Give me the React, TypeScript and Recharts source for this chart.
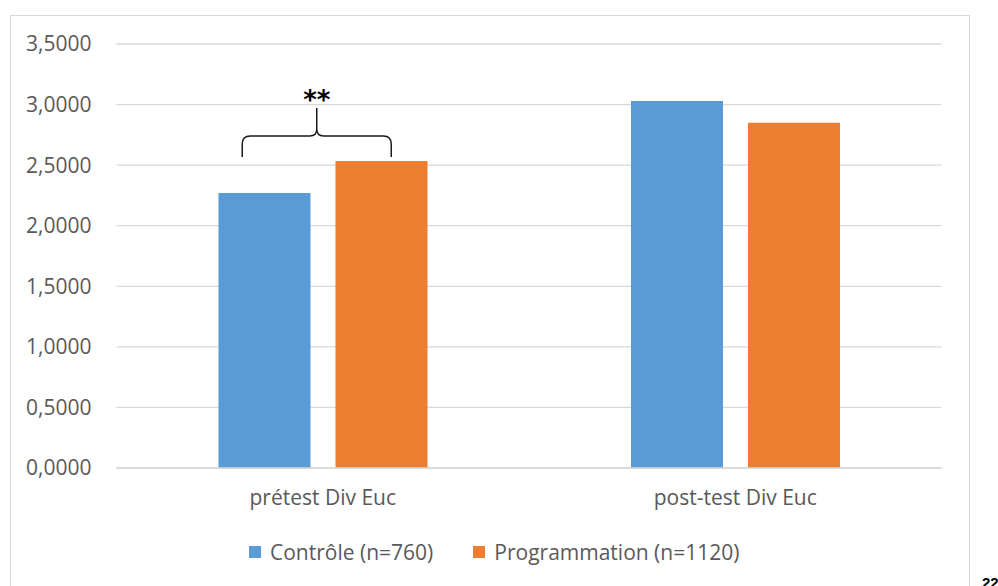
import React from 'react';
import { BarChart, Bar, XAxis, YAxis, CartesianGrid, Legend, ReferenceDot } from 'recharts';

const categories = ['prétest Div Euc', 'post-test Div Euc'];
const controleValues = [2.27, 3.03];
const programmationValues = [2.535, 2.85];
const yTicks = [0, 0.5, 1, 1.5, 2, 2.5, 3, 3.5];
const seriesNames = ['Contrôle (n=760)', 'Programmation (n=1120)'];
const seriesColors = ['#5B9BD5', '#ED7D31'];
const significance = { category: 'prétest Div Euc', y: 2.74, label: '**' };

const data = categories.map((c, i) => ({
  category: c,
  controle: controleValues[i],
  programmation: programmationValues[i],
}));

const FONT = '"Open Sans", sans-serif';

const fmt = (v: number) => v.toFixed(4).replace('.', ',');

const Bracket = (props: any) => {
  const { cx, cy } = props;
  if (cx == null || cy == null) return null;
  const L = cx - 80.5;
  const R = cx + 68.5;
  const M = cx - 6;
  const h = cy;
  const d = `M${L},${h + 21} L${L},${h + 8} Q${L},${h} ${L + 8},${h} L${M - 7},${h} Q${M},${h} ${M},${h - 7} L${M},${h - 28} M${M},${h - 7} Q${M},${h} ${M + 7},${h} L${R - 8},${h} Q${R},${h} ${R},${h + 8} L${R},${h + 21}`;
  return (
    <g>
      <path d={d} fill="none" stroke="#1a1a1a" strokeWidth={1.5} />
      <text
        x={M}
        y={h - 27}
        textAnchor="middle"
        fontFamily='"DejaVu Sans", sans-serif'
        fontWeight="bold"
        fontSize={26}
        fill="#000"
      >
        {significance.label}
      </text>
    </g>
  );
};

const LegendContent = () => (
  <div style={{ display: 'flex', alignItems: 'center', height: 24, paddingLeft: 249, fontFamily: FONT, fontSize: 21, color: '#595959' }}>
    {seriesNames.map((n, i) => (
      <div key={n} style={{ display: 'flex', alignItems: 'center', marginRight: 40 }}>
        <div style={{ width: 12, height: 12, background: seriesColors[i], marginRight: 9 }} />
        <span style={{ lineHeight: '24px' }}>{n}</span>
      </div>
    ))}
  </div>
);

export default function App() {
  return (
    <div style={{ position: 'fixed', left: 0, top: 0, width: 998, height: 586, overflow: 'hidden', background: '#fff' }}>
      <div style={{ position: 'absolute', left: 10, top: 15, width: 960, height: 620, border: '1px solid #d9d9d9', boxSizing: 'border-box' }} />
      <div style={{ position: 'absolute', left: 0, top: 0 }}>
        <BarChart
          width={998}
          height={586}
          data={data}
          margin={{ top: 44, right: 56.5, left: 0, bottom: 22 }}
          barSize={92}
          barGap={25}
        >
          <CartesianGrid vertical={false} stroke="#d9d9d9" strokeWidth={1.3} />
          <XAxis
            dataKey="category"
            height={72}
            tickLine={false}
            tickSize={0}
            tickMargin={22}
            axisLine={{ stroke: '#d9d9d9', strokeWidth: 1.3 }}
            tick={{ fill: '#595959', fontSize: 21, fontFamily: FONT }}
          />
          <YAxis
            width={116.5}
            domain={[0, 3.5]}
            ticks={yTicks}
            tickFormatter={fmt}
            axisLine={false}
            tickLine={false}
            tickSize={0}
            tickMargin={25}
            tick={{ fill: '#595959', fontSize: 21, fontFamily: FONT }}
          />
          <Legend verticalAlign="bottom" height={24} content={<LegendContent />} />
          <Bar dataKey="controle" name={seriesNames[0]} fill={seriesColors[0]} isAnimationActive={false} />
          <Bar dataKey="programmation" name={seriesNames[1]} fill={seriesColors[1]} isAnimationActive={false} />
          <ReferenceDot x={significance.category} y={significance.y} r={0} shape={Bracket} ifOverflow="visible" />
        </BarChart>
      </div>
      <div style={{ position: 'absolute', left: 982, top: 575, fontFamily: '"Liberation Sans", sans-serif', fontWeight: 'bold', fontSize: 15, lineHeight: '15px', color: '#000' }}>22</div>
    </div>
  );
}
